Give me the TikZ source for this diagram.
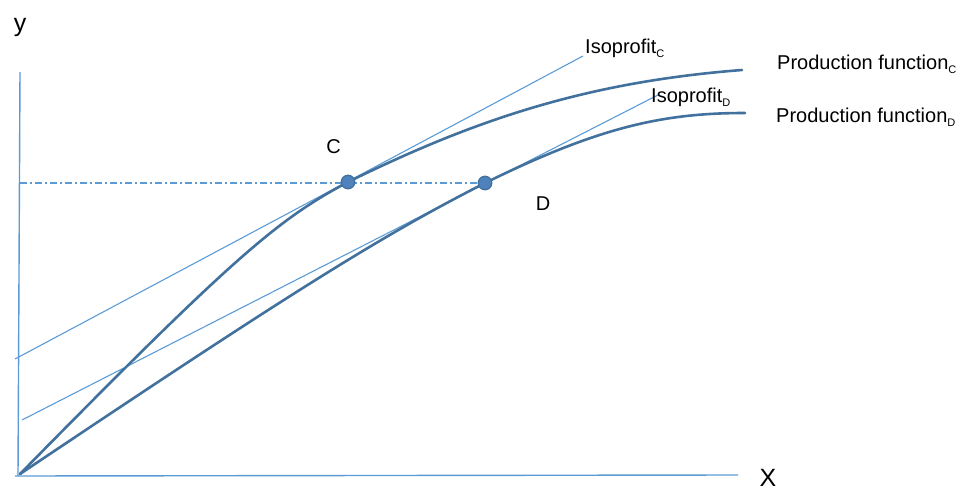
\documentclass[tikz,border=0pt]{standalone}
\usepackage{fontspec}
\setmainfont{Liberation Sans}
\definecolor{curveblue}{HTML}{41719C}
\definecolor{lineblue}{HTML}{5B9BD5}
\definecolor{dotblue}{HTML}{4F81BD}
\newcommand\subsc[1]{\raisebox{-4.5pt}{\fontsize{11}{12}\selectfont #1}}
\begin{document}
\begin{tikzpicture}[x=1pt,y=-1pt,
  axisline/.style={draw=lineblue, line width=1.4pt},
  isoline/.style={draw=lineblue, line width=1.1pt},
  prodcurve/.style={draw=curveblue, line width=2.6pt, line cap=round},
  dashdotline/.style={draw=lineblue, line width=1.1pt, dash pattern=on 7pt off 3pt on 2pt off 3pt},
  ptmark/.style={circle, fill=dotblue, draw=curveblue, line width=1.3pt, minimum size=13.5pt, inner sep=0pt},
  lbl/.style={inner sep=0pt, font=\fontsize{20}{24}\selectfont},
  axlbl/.style={inner sep=0pt, font=\fontsize{25}{29}\selectfont}]
\useasboundingbox (0,0) rectangle (967,490);
% axes
\coordinate (ytop) at (20,72);
\coordinate (orig) at (18,476);
\coordinate (xleft) at (15,476);
\coordinate (xright) at (738,475);
\draw[axisline] (ytop) -- (orig);
\draw[axisline] (xleft) -- (xright);
% isoprofit lines
\coordinate (icA) at (15,359);
\coordinate (icB) at (583,56);
\coordinate (idA) at (22,420);
\coordinate (idB) at (658,95);
\draw[isoline] (icA) -- (icB);
\draw[isoline] (idA) -- (idB);
% production functions
\coordinate (O) at (20,474);
\coordinate (Cpt) at (348,182);
\coordinate (Dpt) at (485,183);
\coordinate (Cend) at (742,70);
\coordinate (Dend) at (745,113);
\draw[prodcurve] (O) .. controls (237,253) and (279,219) .. (Cpt)
                     .. controls (475,119.6) and (587,82) .. (Cend);
\draw[prodcurve] (O) .. controls (289,293.6) and (382,235.4) .. (Dpt)
                     .. controls (599,127) and (663,113) .. (Dend);
% dash-dot level line
\coordinate (ylev) at (20,183);
\node[ptmark] (D) at (Dpt) {};
\draw[dashdotline] (ylev) -- (D.west);
\node[ptmark] (C) at (Cpt) {};
% labels
\node[axlbl, anchor=base] (ylab) at (20,31) {y};
\node[axlbl, anchor=base] (xlab) at (768,486) {X};
\node[lbl, anchor=base] (Clab) at (333.5,153) {C};
\node[lbl, anchor=base] (Dlab) at (543,210) {D};
\node[lbl, anchor=base west] (isoC) at (585,53) {Isoprofit\subsc{C}};
\node[lbl, anchor=base west] (isoD) at (651,102) {Isoprofit\subsc{D}};
\node[lbl, anchor=base west] (pfC) at (777,69) {Production function\subsc{C}};
\node[lbl, anchor=base west] (pfD) at (776,122) {Production function\subsc{D}};
\end{tikzpicture}
\end{document}
